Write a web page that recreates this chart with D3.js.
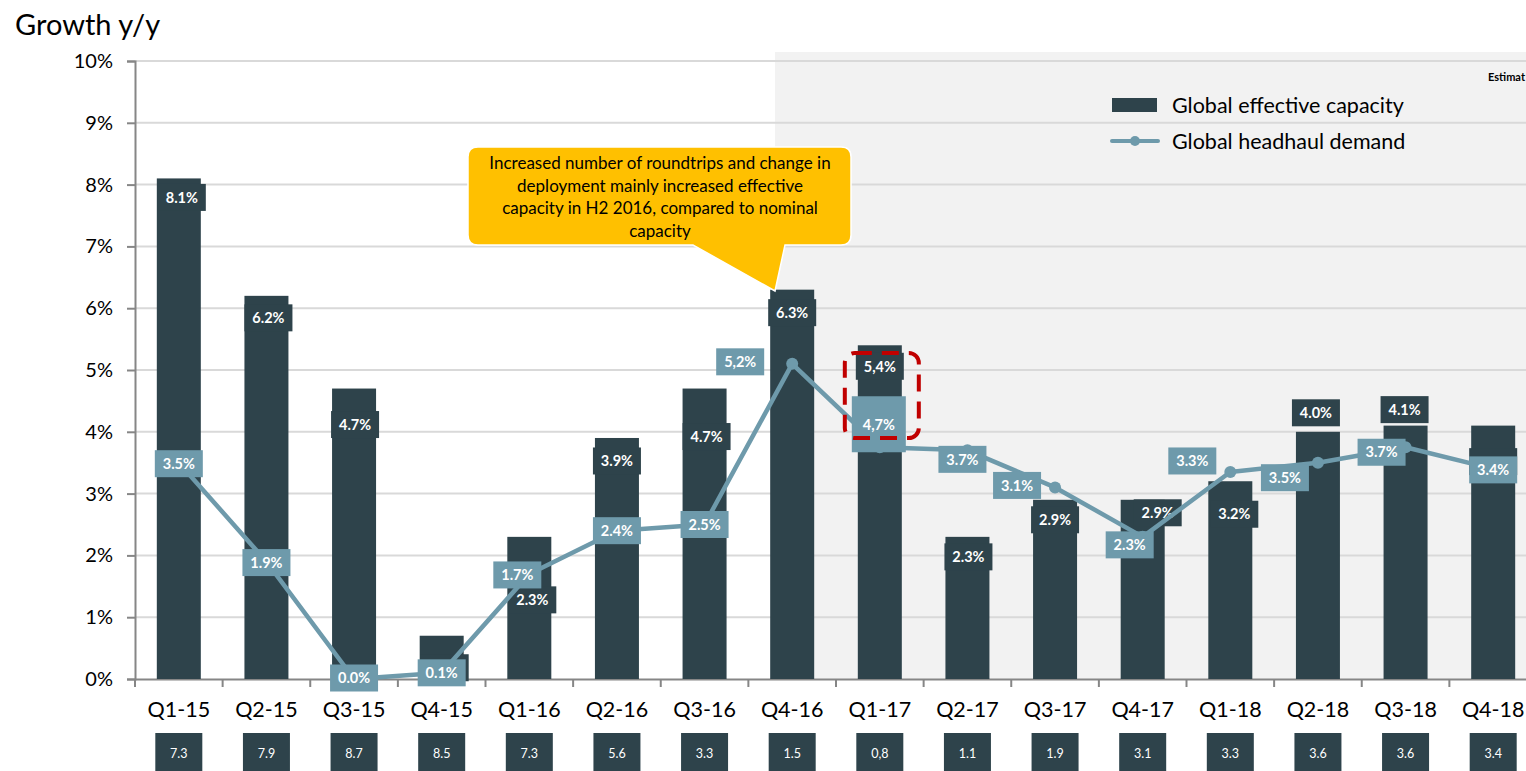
<!DOCTYPE html>
<html>
<head>
<meta charset="utf-8">
<style>
    body { margin: 0; background: #fff; }
    svg { display: block; font-family: Lato, 'Open Sans', sans-serif; }
</style>
</head>
<body>
<svg width="1526" height="771"></svg>

<script src="https://d3js.org/d3.v7.min.js"></script>
<script>
    // chart data
    const quarters = ["Q1-15", "Q2-15", "Q3-15", "Q4-15", "Q1-16", "Q2-16", "Q3-16", "Q4-16",
                      "Q1-17", "Q2-17", "Q3-17", "Q4-17", "Q1-18", "Q2-18", "Q3-18", "Q4-18"];
    const capacity = [8.1, 6.2, 4.7, 0.7, 2.3, 3.9, 4.7, 6.3, 5.4, 2.3, 2.9, 2.9, 3.2, 4.0, 4.1, 4.1];
    // Q4-15 and Q4-18 labels are hidden behind the demand labels in the original
    const capacityLabels = ["8.1%", "6.2%", "4.7%", "", "2.3%", "3.9%", "4.7%", "6.3%",
                            "5,4%", "2.3%", "2.9%", "2.9%", "3.2%", "4.0%", "4.1%", ""];
    const demand = [3.5, 1.9, 0.0, 0.1, 1.7, 2.4, 2.5, 5.1, 3.75, 3.7, 3.1, 2.3, 3.35, 3.5, 3.75, 3.4];
    const demandLabels = ["3.5%", "1.9%", "0.0%", "0.1%", "1.7%", "2.4%", "2.5%", "5,2%",
                          "4,7%", "3.7%", "3.1%", "2.3%", "3.3%", "3.5%", "3.7%", "3.4%"];
    const bottomRow = ["7.3", "7.9", "8.7", "8.5", "7.3", "5.6", "3.3", "1.5",
                       "0,8", "1.1", "1.9", "3.1", "3.3", "3.6", "3.6", "3.4"];
    const yTicks = [0, 1, 2, 3, 4, 5, 6, 7, 8, 9, 10];

    // hand placed label offsets (like the manual nudges in the original)
    const capOffset = [[3, 19], [2, 22], [1, 36], [3, 32], [3, 63], [0, 23], [2, 48], [0, 23],
                       [0, 21], [1, 20], [0, 20], [15, 13], [4, 33], [-2, -19], [-1, -16], [0, 36]];
    const demOffset = [[0, 1], [0, 1], [0, -1], [0, 0], [-12, 1], [0, 0], [0, 0], [-52, -2],
                       [-1, -22], [-5, 9], [-38, -2], [-13, 8], [-38, -11], [-33, 15], [-24, 5], [0, 1]];

    const darkCol = "#2e434b";
    const lineCol = "#6e9aab";

    const svg = d3.select("svg");
    const plotLeft = 135, plotBottom = 679, plotTop = 61;

    const x = d3.scaleBand().domain(quarters).range([plotLeft, 1537]);
    const y = d3.scaleLinear().domain([0, 10]).range([plotBottom, plotTop]);
    const cx = d => x(d) + x.bandwidth() / 2;

    // title
    svg.append("text")
        .attr("x", 15).attr("y", 35)
        .style("font-size", "29px")
        .text("Growth y/y");

    // shaded estimate area
    svg.append("rect")
        .attr("x", 775).attr("y", 52)
        .attr("width", 1526 - 775).attr("height", plotBottom - 52)
        .style("fill", "#f2f2f2");

    svg.append("text")
        .attr("x", 1488).attr("y", 81)
        .style("font-size", "11px").style("font-weight", "bold")
        .text("Estimat");

    // gridlines
    svg.selectAll(".grid")
        .data(yTicks.filter(d => d > 0))
        .join("line")
        .attr("class", "grid")
        .attr("x1", plotLeft).attr("x2", 1526)
        .attr("y1", d => y(d)).attr("y2", d => y(d))
        .style("stroke", "#d9d9d9").style("stroke-width", 2);

    // y axis
    const yAxis = svg.append("g")
        .attr("transform", `translate(${plotLeft},0)`)
        .call(d3.axisLeft(y).tickValues(yTicks).tickFormat(d => d + "%").tickSize(8).tickPadding(14));
    yAxis.select(".domain").style("stroke", "#868686").style("stroke-width", 2);
    yAxis.selectAll(".tick line").style("stroke", "#868686").style("stroke-width", 2);
    yAxis.selectAll("text").style("font-size", "20px").style("fill", "#000").style("font-family", "Lato, sans-serif");

    // x axis
    const xAxis = svg.append("g")
        .attr("transform", `translate(0,${plotBottom})`)
        .call(d3.axisBottom(x).tickSize(0).tickPadding(23));
    xAxis.select(".domain").style("stroke", "#868686").style("stroke-width", 2);
    xAxis.selectAll("text").style("font-size", "21.5px").style("fill", "#000").style("font-family", "Lato, sans-serif");
    xAxis.selectAll(".sep")
        .data(quarters)
        .join("line")
        .attr("class", "sep")
        .attr("x1", d => x(d)).attr("x2", d => x(d))
        .attr("y1", 0).attr("y2", 8)
        .style("stroke", "#868686").style("stroke-width", 2);

    // bars
    const barW = 44;
    svg.selectAll(".bar")
        .data(quarters)
        .join("rect")
        .attr("class", "bar")
        .attr("x", d => cx(d) - barW / 2)
        .attr("y", (d, i) => y(capacity[i]))
        .attr("width", barW)
        .attr("height", (d, i) => plotBottom - y(capacity[i]))
        .style("fill", darkCol);

    // bar labels
    const capLab = svg.selectAll(".caplab")
        .data(quarters)
        .join("g")
        .attr("class", "caplab")
        .attr("transform", (d, i) => `translate(${cx(d) + capOffset[i][0]},${y(capacity[i]) + capOffset[i][1]})`);
    capLab.append("rect")
        .attr("x", -24).attr("y", -13.5).attr("width", 48).attr("height", 27)
        .style("fill", darkCol);
    capLab.append("text")
        .attr("text-anchor", "middle").attr("dy", "0.36em")
        .style("fill", "#fff").style("font-size", "14.5px").style("font-weight", "bold")
        .text((d, i) => capacityLabels[i]);

    // demand line
    const line = d3.line()
        .x((d, i) => cx(quarters[i]))
        .y(d => y(d));
    svg.append("path")
        .datum(demand)
        .attr("d", line)
        .style("fill", "none")
        .style("stroke", lineCol)
        .style("stroke-width", 4.5)
        .style("stroke-linejoin", "round");
    svg.selectAll(".dot")
        .data(demand)
        .join("circle")
        .attr("class", "dot")
        .attr("cx", (d, i) => cx(quarters[i]))
        .attr("cy", d => y(d))
        .attr("r", 6)
        .style("fill", lineCol);

    // demand labels
    const demLab = svg.selectAll(".demlab")
        .data(demand)
        .join("g")
        .attr("class", "demlab")
        .attr("transform", (d, i) => `translate(${cx(quarters[i]) + demOffset[i][0]},${y(d) + demOffset[i][1]})`);
    demLab.append("rect")
        .attr("x", (d, i) => i === 8 ? -27 : -24)
        .attr("y", (d, i) => i === 8 ? -29 : -13.5)
        .attr("width", (d, i) => i === 8 ? 54 : 48)
        .attr("height", (d, i) => i === 8 ? 56 : 27)
        .style("fill", lineCol);
    demLab.append("text")
        .attr("text-anchor", "middle").attr("dy", "0.36em")
        .style("fill", "#fff").style("font-size", "14.5px").style("font-weight", "bold")
        .text((d, i) => demandLabels[i]);

    // red dashed highlight around Q1-17
    svg.append("rect")
        .attr("x", cx("Q1-17") - 35).attr("y", 353)
        .attr("width", 74).attr("height", 85)
        .attr("rx", 10)
        .style("fill", "none")
        .style("stroke", "#c00000")
        .style("stroke-width", 4)
        .style("stroke-dasharray", "17,10");

    // callout
    const callout = svg.append("g");
    callout.append("path")
        .attr("d", "M478,147 H841 Q851,147 851,157 V235 Q851,245 841,245 H785 L775,291 L693,245 H478 Q468,245 468,235 V157 Q468,147 478,147 Z")
        .style("fill", "#ffc000").style("stroke", "#fff").style("stroke-width", 1.5);
    const calloutLines = ["Increased number of roundtrips and change in",
                          "deployment mainly increased effective",
                          "capacity in H2 2016, compared to nominal",
                          "capacity"];
    callout.selectAll("text")
        .data(calloutLines)
        .join("text")
        .attr("x", 660)
        .attr("y", (d, i) => 169 + i * 22.5)
        .attr("text-anchor", "middle")
        .style("font-size", "17px")
        .text(d => d);

    // legend
    const legend = svg.append("g").attr("transform", "translate(1112,0)");
    legend.append("rect")
        .attr("x", 0).attr("y", 98).attr("width", 45).attr("height", 14)
        .style("fill", darkCol);
    legend.append("text")
        .attr("x", 60).attr("y", 105).attr("dy", "0.35em")
        .style("font-size", "21.5px")
        .text("Global effective capacity");
    legend.append("line")
        .attr("x1", 0).attr("x2", 46).attr("y1", 141).attr("y2", 141)
        .style("stroke", lineCol).style("stroke-width", 4).style("stroke-linecap", "round");
    legend.append("circle")
        .attr("cx", 23).attr("cy", 141).attr("r", 5)
        .style("fill", lineCol);
    legend.append("text")
        .attr("x", 60).attr("y", 141).attr("dy", "0.35em")
        .style("font-size", "21.5px")
        .text("Global headhaul demand");

    // bottom row of boxes
    const bot = svg.selectAll(".botbox")
        .data(bottomRow)
        .join("g")
        .attr("class", "botbox")
        .attr("transform", (d, i) => `translate(${cx(quarters[i])},733)`);
    bot.append("rect")
        .attr("x", -23.5).attr("y", 0).attr("width", 47).attr("height", 40)
        .style("fill", darkCol);
    bot.append("text")
        .attr("text-anchor", "middle").attr("y", 21).attr("dy", "0.35em")
        .style("fill", "#fff").style("font-size", "12.5px")
        .text(d => d);
</script>
</body>
</html>
